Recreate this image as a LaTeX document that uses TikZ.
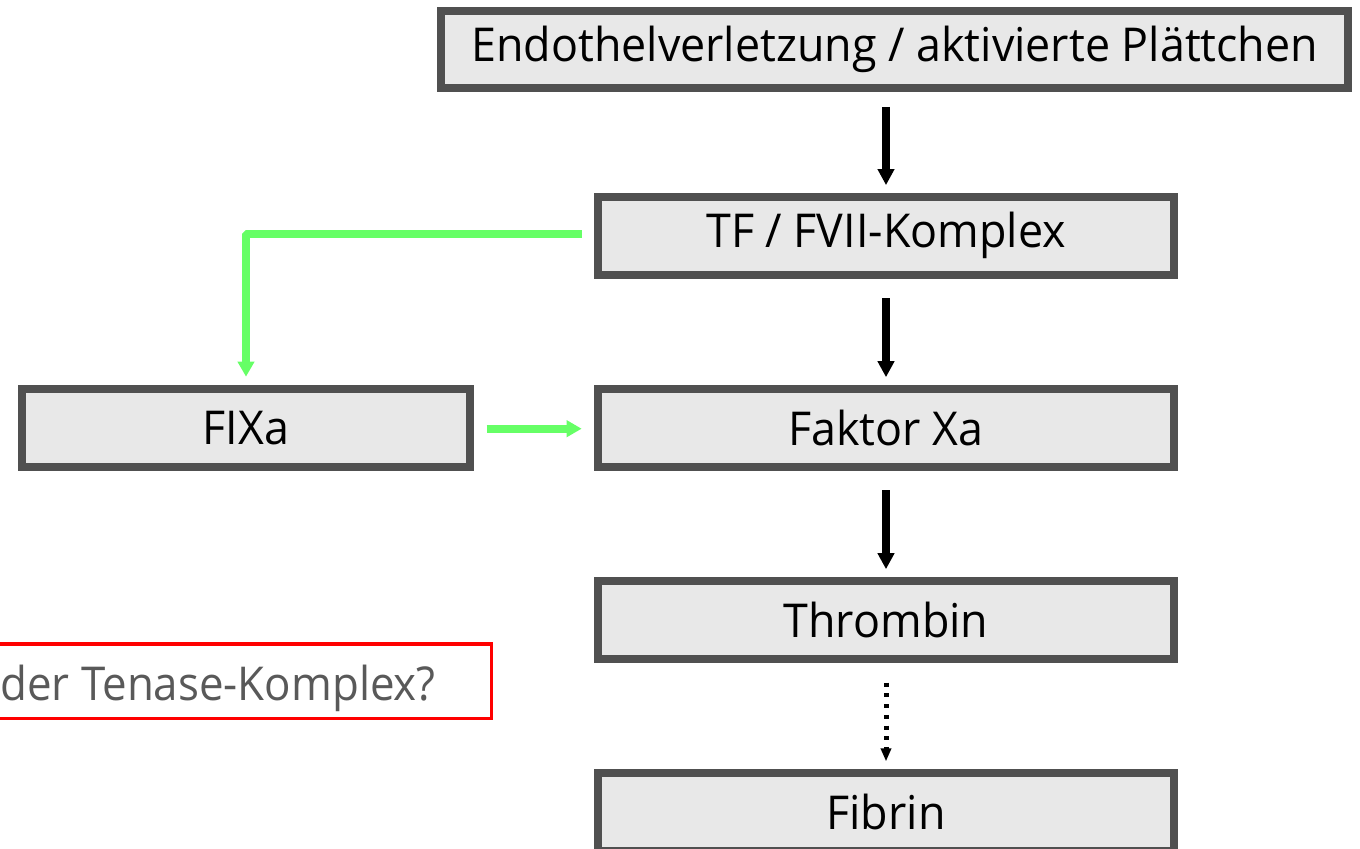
\documentclass[tikz,border=0pt]{standalone}
\usepackage{fontspec}
\setmainfont{Open Sans}[FakeStretch=0.96]
\newfontfamily\qfont{Open Sans}[FakeStretch=0.94]
\usetikzlibrary{arrows.meta}
\definecolor{boxfill}{HTML}{E8E8E8}
\definecolor{boxline}{HTML}{505050}
\definecolor{grn}{HTML}{66FF66}
\definecolor{qgray}{HTML}{595959}
\tikzset{
  stepbox/.style={draw=boxline, fill=boxfill, line width=8*0.75pt, minimum height=78*0.75pt, inner sep=0pt, font=\fontsize{35}{40}\selectfont},
  blackarrow/.style={draw=black, line width=8*0.75pt, -{Triangle[width=16*0.75pt, length=16*0.75pt]}},
  dotarrow/.style={draw=black, line width=5*0.75pt, dash pattern=on 4*0.75pt off 6.7*0.75pt, -{Triangle[width=10*0.75pt, length=13*0.75pt]}},
  greenarrow/.style={draw=grn, line width=7.7*0.75pt, line join=bevel, -{Triangle[width=16*0.75pt, length=15*0.75pt]}},
}
\begin{document}
\begin{tikzpicture}[x=0.75pt, y=-0.75pt]
\useasboundingbox (0,0) rectangle (1360,849);
\clip (0,0) rectangle (1360,849);
\node[stepbox, minimum width=907*0.75pt, minimum height=77*0.75pt] (endo) at (894.7,49.5) {Endothelverletzung / aktivierte Plättchen};
\node[stepbox, minimum width=576*0.75pt] (tf) at (886,235.8) {TF / FVII-Komplex};
\node[stepbox, minimum width=448*0.75pt] (fixa) at (246,427.7) {FIXa};
\node[stepbox, minimum width=576*0.75pt] (xa) at (886,427.7) {Faktor Xa};
\node[stepbox, minimum width=576*0.75pt] (thr) at (886,619.7) {Thrombin};
\node[stepbox, minimum width=576*0.75pt] (fib) at (886,811.7) {Fibrin};
\node[draw=red, line width=3.3*0.75pt, minimum width=542*0.75pt, minimum height=74.5*0.75pt, inner sep=0pt, anchor=east] (q) at (493.3,681.2) {};
\node[anchor=base east, text=qgray, inner sep=0pt, font=\qfont\fontsize{35}{40}\selectfont] (qt) at (436,700) {der Tenase-Komplex?};
\draw[blackarrow, shorten <=15*0.75pt, shorten >=7.7*0.75pt] (endo.south -| tf.north) -- (tf.north);
\draw[blackarrow, shorten <=19.5*0.75pt, shorten >=7.5*0.75pt] (tf.south) -- (xa.north);
\draw[blackarrow, shorten <=19.5*0.75pt, shorten >=7.5*0.75pt] (xa.south) -- (thr.north);
\draw[dotarrow, shorten <=20*0.75pt, shorten >=7.3*0.75pt] (thr.south) -- (fib.north);
\draw[greenarrow, shorten <=12*0.75pt, shorten >=8*0.75pt] ([yshift=1.8*0.75pt]tf.west) -| (fixa.north);
\draw[greenarrow, shorten <=12.7*0.75pt, shorten >=12.3*0.75pt] ([yshift=-1*0.75pt]fixa.east) -- ([yshift=-1*0.75pt]xa.west);
\end{tikzpicture}
\end{document}
